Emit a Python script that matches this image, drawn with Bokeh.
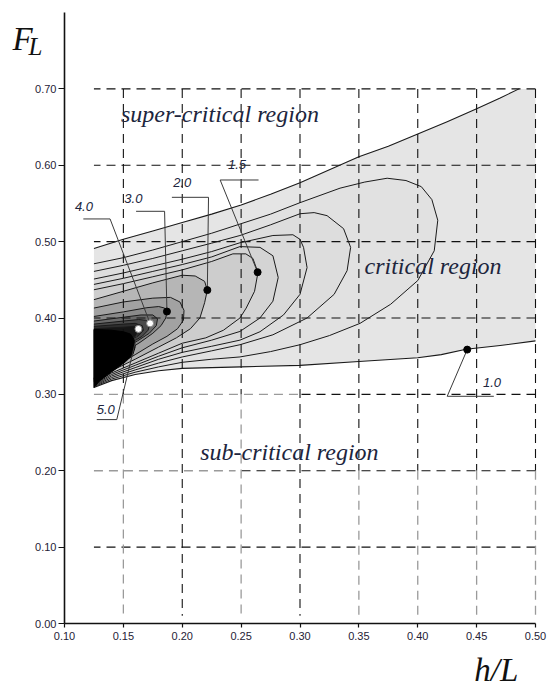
from bokeh.plotting import figure
from bokeh.models import Label, FixedTicker, PrintfTickFormatter, Range1d, ColumnDataSource
from bokeh.core.properties import value
from bokeh.embed import file_html
from bokeh.resources import INLINE

# ---------------- data ----------------
X_TICKS = [0.10, 0.15, 0.20, 0.25, 0.30, 0.35, 0.40, 0.45, 0.50]
Y_TICKS = [0.00, 0.10, 0.20, 0.30, 0.40, 0.50, 0.60, 0.70]
X_TITLE = "h/L"
Y_TITLE_MAIN = "F"
Y_TITLE_SUB = "L"

# level 1.0 (outer boundary of the critical region)
C10_TOP_X = [0.125, 0.15, 0.175, 0.20, 0.225, 0.25, 0.275, 0.30, 0.325, 0.35, 0.375, 0.40, 0.425, 0.45, 0.47, 0.486]
C10_TOP_Y = [0.491, 0.503, 0.514, 0.525, 0.536, 0.548, 0.562, 0.577, 0.594, 0.611, 0.625, 0.641, 0.657, 0.674, 0.688, 0.700]
C10_BOT_X = [0.50, 0.47, 0.441, 0.42, 0.40, 0.35, 0.30, 0.25, 0.20, 0.18, 0.16, 0.14, 0.125]
C10_BOT_Y = [0.370, 0.364, 0.359, 0.352, 0.348, 0.343, 0.338, 0.336, 0.334, 0.331, 0.326, 0.318, 0.309]

C11_X = [0.125, 0.15, 0.175, 0.20, 0.225, 0.249, 0.275, 0.30, 0.334, 0.355, 0.374, 0.39, 0.403, 0.412, 0.417, 0.414, 0.40, 0.377, 0.351, 0.325, 0.30, 0.275, 0.249, 0.225, 0.20, 0.18, 0.16, 0.14, 0.125]
C11_Y = [0.471, 0.479, 0.489, 0.500, 0.511, 0.523, 0.536, 0.551, 0.570, 0.578, 0.583, 0.580, 0.572, 0.555, 0.528, 0.488, 0.449, 0.418, 0.393, 0.377, 0.365, 0.356, 0.349, 0.346, 0.342, 0.336, 0.329, 0.320, 0.310]

C12_X = [0.125, 0.15, 0.175, 0.20, 0.225, 0.249, 0.275, 0.30, 0.312, 0.323, 0.337, 0.343, 0.340, 0.329, 0.306, 0.277, 0.249, 0.225, 0.20, 0.18, 0.16, 0.14, 0.125]
C12_Y = [0.461, 0.469, 0.478, 0.488, 0.498, 0.508, 0.522, 0.5365, 0.538, 0.534, 0.517, 0.4925, 0.462, 0.431, 0.400, 0.378, 0.365, 0.357, 0.349, 0.341, 0.332, 0.322, 0.311]

C13_X = [0.125, 0.15, 0.175, 0.20, 0.225, 0.249, 0.277, 0.294, 0.300, 0.303, 0.306, 0.300, 0.286, 0.266, 0.249, 0.225, 0.20, 0.18, 0.16, 0.14, 0.125]
C13_Y = [0.451, 0.459, 0.468, 0.477, 0.487, 0.4985, 0.508, 0.509, 0.503, 0.4925, 0.466, 0.431, 0.404, 0.382, 0.371, 0.363, 0.355, 0.346, 0.335, 0.324, 0.312]

C14_X = [0.125, 0.15, 0.175, 0.20, 0.225, 0.249, 0.266, 0.277, 0.2815, 0.277, 0.266, 0.249, 0.225, 0.20, 0.18, 0.16, 0.14, 0.125]
C14_Y = [0.444, 0.452, 0.461, 0.470, 0.480, 0.4935, 0.4925, 0.4815, 0.453, 0.422, 0.400, 0.3824, 0.371, 0.361, 0.350, 0.338, 0.326, 0.313]

C15_X = [0.125, 0.15, 0.175, 0.20, 0.225, 0.243, 0.254, 0.260, 0.2643, 0.2614, 0.2543, 0.249, 0.235, 0.22, 0.20, 0.18, 0.16, 0.14, 0.125]
C15_Y = [0.437, 0.445, 0.454, 0.463, 0.474, 0.484, 0.484, 0.478, 0.4595, 0.435, 0.413, 0.400, 0.384, 0.374, 0.367, 0.354, 0.341, 0.328, 0.314]

C20_X = [0.125, 0.15, 0.175, 0.20, 0.211, 0.219, 0.2213, 0.219, 0.215, 0.207, 0.195, 0.18, 0.16, 0.14, 0.125]
C20_Y = [0.424, 0.435, 0.446, 0.456, 0.455, 0.448, 0.4365, 0.420, 0.400, 0.386, 0.374, 0.362, 0.346, 0.331, 0.315]

C25_X = [0.125, 0.15, 0.175, 0.19, 0.198, 0.2015, 0.201, 0.196, 0.187, 0.175, 0.16, 0.14, 0.125]
C25_Y = [0.413, 0.421, 0.426, 0.427, 0.421, 0.410, 0.397, 0.386, 0.376, 0.366, 0.352, 0.334, 0.316]

C30_X = [0.125, 0.15, 0.17, 0.18, 0.185, 0.187, 0.186, 0.182, 0.175, 0.165, 0.15, 0.14, 0.125]
C30_Y = [0.402, 0.408, 0.4135, 0.415, 0.413, 0.4085, 0.400, 0.390, 0.380, 0.369, 0.354, 0.343, 0.317]

C35_X = [0.125, 0.15, 0.165, 0.175, 0.179, 0.178, 0.172, 0.162, 0.15, 0.14, 0.125]
C35_Y = [0.396, 0.401, 0.404, 0.404, 0.399, 0.390, 0.380, 0.370, 0.360, 0.350, 0.318]

C40_X = [0.125, 0.15, 0.163, 0.169, 0.1727, 0.171, 0.166, 0.157, 0.147, 0.137, 0.125]
C40_Y = [0.392, 0.396, 0.398, 0.397, 0.393, 0.384, 0.376, 0.368, 0.361, 0.352, 0.319]

C45_X = [0.125, 0.15, 0.16, 0.166, 0.167, 0.163, 0.155, 0.145, 0.135, 0.125]
C45_Y = [0.389, 0.392, 0.393, 0.390, 0.384, 0.377, 0.370, 0.364, 0.356, 0.320]

C50_X = [0.125, 0.15, 0.159, 0.1628, 0.162, 0.157, 0.148, 0.138, 0.125]
C50_Y = [0.386, 0.388, 0.389, 0.3857, 0.379, 0.373, 0.367, 0.360, 0.321]

# densely packed contours (levels above 5.0) that print as solid black
CORE_X = [0.125, 0.14, 0.15, 0.156, 0.159, 0.160, 0.158, 0.152, 0.145, 0.137, 0.13, 0.125]
CORE_Y = [0.385, 0.384, 0.382, 0.379, 0.372, 0.362, 0.352, 0.343, 0.335, 0.326, 0.318, 0.309]

INNER_LEVELS = ["1.1", "1.2", "1.3", "1.4", "1.5", "2.0", "2.5", "3.0", "3.5", "4.0", "4.5", "5.0"]
INNER_X = [C11_X, C12_X, C13_X, C14_X, C15_X, C20_X, C25_X, C30_X, C35_X, C40_X, C45_X, C50_X]
INNER_Y = [C11_Y, C12_Y, C13_Y, C14_Y, C15_Y, C20_Y, C25_Y, C30_Y, C35_Y, C40_Y, C45_Y, C50_Y]

# labelled contour points
MARK_LEVELS = ["1.0", "1.5", "2.0", "3.0", "4.0", "5.0"]
MARK_X = [0.442, 0.264, 0.2213, 0.187, 0.1727, 0.1628]
MARK_Y = [0.3586, 0.460, 0.4365, 0.4085, 0.393, 0.3857]
MARK_WHITE = [False, False, False, False, True, True]

# annotation placement for those labels
LABEL_X = [0.463, 0.2465, 0.200, 0.1585, 0.1165, 0.135]
LABEL_Y = [0.316, 0.601, 0.578, 0.557, 0.546, 0.280]
LEADER_END_X = [0.4646, 0.2648, 0.1912, 0.1608, 0.116, 0.1274]
LEADER_ELBOW_X = [0.425, 0.2322, 0.2223, 0.185, 0.1387, 0.1444]
LEADER_Y = [0.2975, 0.5807, 0.558, 0.5397, 0.5297, 0.267]

REGION_NAMES = ["super-critical region", "critical region", "sub-critical region"]
REGION_X = [0.232, 0.413, 0.291]
REGION_Y = [0.667, 0.468, 0.224]

# ---------------- layout / styling ----------------
X_AX0, X_AX1 = 0.10, 0.50          # extent of the x axis line
Y_AX0, Y_AX1 = 0.0, 0.80           # extent of the y axis line
PX_X = 1177.5                      # pixels per x unit
PX_Y = 763.75                      # pixels per y unit
CANVAS_W, CANVAS_H = 549, 690
PAD_L, PAD_R, PAD_T, PAD_B = 64, 14, 12, 67   # room round the axes (titles live there)
GRID_X0 = 0.125
GRID_Y0 = 0.01
GRID_TOP = 0.70

x_range = Range1d(X_AX0 - PAD_L / PX_X, X_AX1 + PAD_R / PX_X)
y_range = Range1d(Y_AX0 - PAD_B / PX_Y, Y_AX1 + PAD_T / PX_Y)

FILL_OUTER = "#e5e5e5"
FILL_INNER = ["#e1e1e1", "#dddddd", "#d9d9d9", "#d4d4d4", "#cdcdcd", "#b6b6b6",
              "#a2a2a2", "#8a8a8a", "#6a6a6a", "#4a4a4a", "#2e2e2e", "#161616"]
LINE_COL = "#1a1a1a"
TEXT_COL = "#20253d"

p = figure(width=CANVAS_W, height=CANVAS_H, x_range=x_range, y_range=y_range,
           output_backend="svg", toolbar_location=None,
           min_border_left=0, min_border_right=0, min_border_top=0, min_border_bottom=0)
p.xgrid.visible = False
p.ygrid.visible = False
p.outline_line_color = None
p.background_fill_color = "white"
p.border_fill_color = "white"

for ax in (p.xaxis[0], p.yaxis[0]):
    ax.axis_line_width = 1.6
    ax.axis_line_color = "#111111"
    ax.major_tick_line_color = "#111111"
    ax.major_tick_line_width = 1.2
    ax.minor_tick_line_color = None
    ax.major_tick_in = 0
    ax.major_label_text_font = "Liberation Sans"
    ax.major_label_text_font_size = "11px"
    ax.major_label_text_color = "#1f2236"
    ax.formatter = PrintfTickFormatter(format="%.2f")
p.xaxis[0].ticker = FixedTicker(ticks=X_TICKS)
p.yaxis[0].ticker = FixedTicker(ticks=Y_TICKS)
p.xaxis[0].fixed_location = Y_AX0
p.yaxis[0].fixed_location = X_AX0
p.xaxis[0].bounds = (X_AX0, X_AX1)
p.yaxis[0].bounds = (Y_AX0, Y_AX1)
p.xaxis[0].major_tick_out = 4
p.xaxis[0].major_label_standoff = 4
p.yaxis[0].major_tick_out = 6
p.yaxis[0].major_label_standoff = 2

# filled bands
outer_x = C10_TOP_X + [X_AX1] + C10_BOT_X
outer_y = C10_TOP_Y + [GRID_TOP] + C10_BOT_Y
p.patch(outer_x, outer_y, fill_color=FILL_OUTER, line_color=None)
for xs, ys, col in zip(INNER_X, INNER_Y, FILL_INNER):
    p.patch(xs, ys, fill_color=col, line_color=None)

# dashed grid (partly grey in the lower area, as in the source figure)
gray_below = {0.15: 0.30, 0.25: 0.30, 0.35: 0.20, 0.40: 0.20, 0.45: 0.20, 0.50: 0.20}
gray_left = {0.30: 0.30, 0.20: 0.245}
bx0, by0, bx1, by1 = [], [], [], []
gx0, gy0, gx1, gy1 = [], [], [], []
for xv in X_TICKS[1:]:
    split = gray_below.get(xv, GRID_Y0)
    bx0.append(xv); bx1.append(xv); by0.append(GRID_TOP); by1.append(split)
    if xv in gray_below:
        gx0.append(xv); gx1.append(xv); gy0.append(split); gy1.append(GRID_Y0)
for yv in Y_TICKS[1:]:
    split = gray_left.get(yv, GRID_X0)
    bx0.append(X_AX1); bx1.append(split); by0.append(yv); by1.append(yv)
    if yv in gray_left:
        gx0.append(GRID_X0); gx1.append(split); gy0.append(yv); gy1.append(yv)
p.segment(bx0, by0, bx1, by1, line_color="#111111", line_width=1.1, line_dash="9 6")
p.segment(gx0, gy0, gx1, gy1, line_color="#9a9a9a", line_width=1.3, line_dash="9 6")

# contour lines
p.line(C10_TOP_X, C10_TOP_Y, line_color=LINE_COL, line_width=1.1, line_join="round")
p.line(C10_BOT_X, C10_BOT_Y, line_color=LINE_COL, line_width=1.1, line_join="round")
for xs, ys in zip(INNER_X, INNER_Y):
    p.line(xs, ys, line_color=LINE_COL, line_width=1.0, line_join="round")
p.patch(CORE_X, CORE_Y, fill_color="#000000", line_color="#000000", line_width=1)

# leaders
lead_xs = [[ex, bx, mx] for ex, bx, mx in zip(LEADER_END_X, LEADER_ELBOW_X, MARK_X)]
lead_ys = [[ly, ly, my] for ly, my in zip(LEADER_Y, MARK_Y)]
p.multi_line(lead_xs, lead_ys, line_color="#3a3a3a", line_width=1.0)

# marked points
bxm = [x for x, w in zip(MARK_X, MARK_WHITE) if not w]
bym = [y for y, w in zip(MARK_Y, MARK_WHITE) if not w]
wxm = [x for x, w in zip(MARK_X, MARK_WHITE) if w]
wym = [y for y, w in zip(MARK_Y, MARK_WHITE) if w]
p.scatter(bxm, bym, size=7, fill_color="#000000", line_color="#000000")
p.scatter(wxm, wym, size=7, fill_color="#ffffff", line_color="#888888", line_width=1)

# contour value labels
lab_src = ColumnDataSource(dict(x=LABEL_X, y=LABEL_Y, t=MARK_LEVELS))
p.text(x="x", y="y", text="t", source=lab_src, text_font=value("Liberation Sans"),
       text_font_style="italic", text_font_size="13px", text_color=TEXT_COL,
       text_align="center", text_baseline="middle")

# region names
reg_src = ColumnDataSource(dict(x=REGION_X, y=REGION_Y, t=REGION_NAMES))
p.text(x="x", y="y", text="t", source=reg_src, text_font=value("Liberation Serif"),
       text_font_style="italic", text_font_size="24px", text_color=TEXT_COL,
       text_align="center", text_baseline="middle")

# axis titles
p.add_layout(Label(x=0.0558, y=0.7648, text=Y_TITLE_MAIN, text_font="Liberation Serif",
                   text_font_style="italic", text_font_size="33px", text_color="#111111",
                   text_align="left", text_baseline="alphabetic"))
p.add_layout(Label(x=0.0694, y=0.7555, text=Y_TITLE_SUB, text_font="Liberation Serif",
                   text_font_style="italic", text_font_size="25px", text_color="#111111",
                   text_align="left", text_baseline="alphabetic"))
p.add_layout(Label(x=0.448, y=-0.0615, text=X_TITLE, text_font="Liberation Serif",
                   text_font_style="italic", text_font_size="33px", text_color="#111111",
                   text_align="left", text_baseline="alphabetic"))

open("out.html", "w").write(file_html(p, INLINE))
